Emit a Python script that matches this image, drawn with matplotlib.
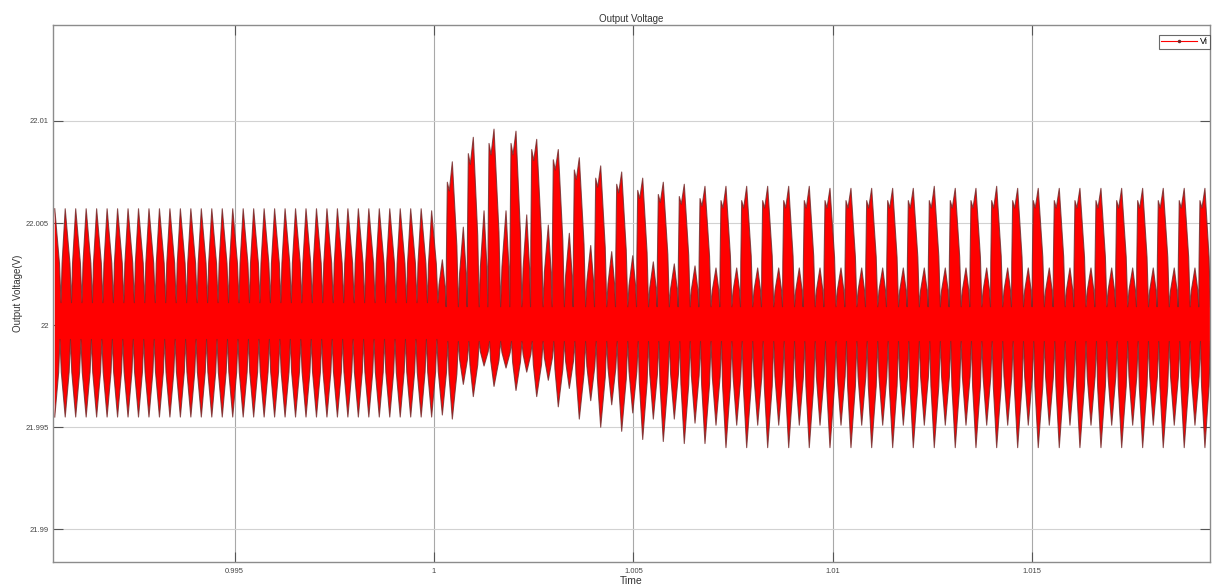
import numpy as np
import matplotlib
matplotlib.use("Agg")
import matplotlib.pyplot as plt
from matplotlib.lines import Line2D

plt.rcParams['font.family'] = ['Liberation Sans', 'DejaVu Sans']

# ---------------- axis data ----------------
x_ticks = [0.995, 1.0, 1.005, 1.01, 1.015]
x_tick_labels = ["0.995", "1", "1.005", "1.01", "1.015"]
y_ticks = [21.99, 21.995, 22.0, 22.005, 22.01]
y_tick_labels = ["21.99", "21.995", "22", "22.005", "22.01"]
x_limits = [0.99045, 1.01945]
y_limits = [21.9884, 22.0147]

# ---------------- before the load step (ripple events) ----------------
pre_start = 0.990494
pre_period = 0.0002624
pre_peak = [22.0057, 22.0057, 22.0057, 22.0057, 22.0057, 22.0057, 22.0057, 22.0057,
            22.0057, 22.0057, 22.0057, 22.0057, 22.0057, 22.0057, 22.0057, 22.0057,
            22.0057, 22.0057, 22.0057, 22.0057, 22.0057, 22.0057, 22.0057, 22.0057,
            22.0057, 22.0057, 22.0057, 22.0057, 22.0057, 22.0057, 22.0057, 22.0057,
            22.0057, 22.0057, 22.0057, 22.0057, 22.0056]
pre_trough = [21.9955, 21.9955, 21.9955, 21.9955, 21.9955, 21.9955, 21.9955, 21.9955,
              21.9955, 21.9955, 21.9955, 21.9955, 21.9955, 21.9955, 21.9955, 21.9955,
              21.9955, 21.9955, 21.9955, 21.9955, 21.9955, 21.9955, 21.9955, 21.9955,
              21.9955, 21.9955, 21.9955, 21.9955, 21.9955, 21.9955, 21.9955, 21.9955,
              21.9955, 21.9955, 21.9955, 21.9955, 21.9955]
pre_band = [22.0011, 21.9993]

# ---------------- after the load step ----------------
tall_time = [1.000459, 1.000985, 1.001504, 1.002055, 1.002574, 1.003115, 1.003642,
             1.004178, 1.004704, 1.005231, 1.005747, 1.006273, 1.006792, 1.007318,
             1.007837, 1.008363, 1.008890, 1.009406, 1.009925, 1.010451, 1.010970,
             1.011496, 1.012013, 1.012539, 1.013065, 1.013584, 1.014103, 1.014629,
             1.015145, 1.015672, 1.016190, 1.016717, 1.017236, 1.017762, 1.018278,
             1.018804, 1.019323]
tall_peak = [22.0080, 22.0092, 22.0096, 22.0095, 22.0091, 22.0086, 22.0082, 22.0078,
             22.0075, 22.0072, 22.0070, 22.0069, 22.0068, 22.0068, 22.0068, 22.0068,
             22.0068, 22.0068, 22.0067, 22.0067, 22.0067, 22.0067, 22.0067, 22.0068,
             22.0067, 22.0067, 22.0068, 22.0067, 22.0067, 22.0067, 22.0067, 22.0067,
             22.0067, 22.0067, 22.0067, 22.0067, 22.0067]
tall_shoulder = [22.0070, 22.0084, 22.0089, 22.0089, 22.0086, 22.0081, 22.0076, 22.0072,
                 22.0069, 22.0066, 22.0064, 22.0063, 22.0062, 22.0061, 22.0061, 22.0061,
                 22.0061, 22.0061, 22.0061, 22.0061, 22.0061, 22.0061, 22.0061, 22.0061,
                 22.0061, 22.0061, 22.0061, 22.0061, 22.0061, 22.0061, 22.0061, 22.0061,
                 22.0061, 22.0061, 22.0061, 22.0061, 22.0061]
tall_trough = [21.9954, 21.9965, 21.9970, 21.9968, 21.9965, 21.9960, 21.9954, 21.9950,
               21.9948, 21.9944, 21.9943, 21.9942, 21.9942, 21.9940, 21.9940, 21.9940,
               21.9940, 21.9940, 21.9940, 21.9940, 21.9940, 21.9940, 21.9940, 21.9940,
               21.9940, 21.9940, 21.9940, 21.9940, 21.9940, 21.9940, 21.9940, 21.9940,
               21.9940, 21.9940, 21.9940, 21.9940, 21.9940]
small_lead = 0.00025
small_peak = [22.0032, 22.0048, 22.0056, 22.0056, 22.0054, 22.0049, 22.0045, 22.0039,
              22.0036, 22.0034, 22.0031, 22.0030, 22.0029, 22.0028, 22.0028, 22.0028,
              22.0028, 22.0028, 22.0028, 22.0028, 22.0028, 22.0028, 22.0028, 22.0028,
              22.0028, 22.0028, 22.0028, 22.0028, 22.0028, 22.0028, 22.0028, 22.0028,
              22.0028, 22.0028, 22.0028, 22.0028, 22.0028]
small_trough = [21.9956, 21.9971, 21.9980, 21.9979, 21.9977, 21.9973, 21.9969, 21.9963,
                21.9961, 21.9957, 21.9954, 21.9954, 21.9952, 21.9951, 21.9951, 21.9951,
                21.9951, 21.9951, 21.9951, 21.9951, 21.9951, 21.9951, 21.9951, 21.9951,
                21.9951, 21.9951, 21.9951, 21.9951, 21.9951, 21.9951, 21.9951, 21.9951,
                21.9951, 21.9951, 21.9951, 21.9951, 21.9951]
post_band = [22.0009, 21.9992]

series_label = "Vi"

# ---------------- build envelope outlines ----------------
# key vertices: (time, value, kind) kind: 'x' extreme, 'b' band, 'o' other
up_keys, lo_keys = [], []
n_pre = len(pre_peak)
for i in range(n_pre):
    t = pre_start + i * pre_period
    up_keys += [(t, pre_peak[i], 'x'), (t + 0.6 * pre_period, pre_band[0], 'b')]
    lo_keys += [(t, pre_trough[i], 'x'), (t + 0.5 * pre_period, pre_band[1], 'b')]

n_post = len(tall_time)
for k in range(n_post):
    tT = tall_time[k]
    ts = tT - small_lead
    g1 = tT - ts
    g2 = (tall_time[k + 1] - small_lead - tT) if k + 1 < n_post else small_lead
    notch = 0.07 * (tall_shoulder[k] - post_band[0])
    up_keys += [(ts, small_peak[k], 'x'), (ts + 0.38 * g1, post_band[0], 'b'),
                (tT - 0.5 * g1, tall_shoulder[k], 'x'),
                (tT - 0.3 * g1, tall_shoulder[k] - notch, 'o'),
                (tT, tall_peak[k], 'o'), (tT + 0.55 * g2, post_band[0], 'b')]
    lo_keys += [(ts, small_trough[k], 'x'), (ts + 0.55 * g1, post_band[1], 'b'),
                (tT, tall_trough[k], 'x'), (tT + 0.55 * g2, post_band[1], 'b')]


def with_knees(keys, frac_t=0.75, frac_v=0.42):
    ts, vs = [], []
    for j, (t, v, kind) in enumerate(keys):
        ts.append(t)
        vs.append(v)
        if j + 1 >= len(keys):
            break
        t2, v2, kind2 = keys[j + 1]
        if kind in ('x', 'o') and kind2 == 'b':
            ts.append(t + frac_t * (t2 - t))
            vs.append(v2 + frac_v * (v - v2))
        elif kind == 'b' and kind2 == 'x':
            ts.append(t + (1 - frac_t) * (t2 - t))
            vs.append(v + frac_v * (v2 - v))
    return ts, vs


up_t, up_v = with_knees(up_keys)
lo_t, lo_v = with_knees(lo_keys)

# ---------------- figure ----------------
fig = plt.figure(figsize=(12.13, 5.88), dpi=100)
ax = fig.add_axes([53 / 1213, 1 - 562 / 588, (1210 - 53) / 1213, (562 - 25) / 588])

poly_t = up_t + lo_t[::-1]
poly_v = up_v + lo_v[::-1]
ax.fill(poly_t, poly_v, color='#ff0000', lw=0, zorder=2)
ax.plot(up_t, up_v, color='#6e2a2a', lw=0.8, alpha=0.8, zorder=3)
ax.plot(lo_t, lo_v, color='#6e2a2a', lw=0.8, alpha=0.8, zorder=3)

ax.set_xlim(x_limits)
ax.set_ylim(y_limits)
ax.set_xticks(x_ticks)
ax.set_xticklabels(x_tick_labels)
ax.set_yticks(y_ticks)
ax.set_yticklabels(y_tick_labels)

ax.set_axisbelow(True)
ax.grid(True, axis='x', color='#a8a8a8', lw=0.8)
ax.grid(True, axis='y', color='#d2d2d2', lw=0.8)
ax.tick_params(direction='in', length=7, width=0.8, color='#555555',
               top=True, right=True, labelsize=5.5, labelcolor='#444444')
ax.tick_params(axis='x', pad=4)
ax.tick_params(axis='y', pad=3)
for s in ax.spines.values():
    s.set_color('#8c8c8c')
    s.set_linewidth(1.0)

ax.set_title("Output Voltage", fontsize=7, color='#333333', pad=2.5)
ax.set_xlabel("Time", fontsize=7.5, color='#333333', labelpad=1)
ax.set_ylabel("Output Voltage(V)", fontsize=7, color='#333333', labelpad=1.5)

handle = Line2D([], [], color='#ff0000', lw=0.8, marker='.', markersize=3,
                markerfacecolor='#6e2a2a', markeredgecolor='#6e2a2a')
leg = ax.legend([handle], [series_label], loc='upper right',
                bbox_to_anchor=(1.0, 1 - 10 / 537), fontsize=6.5,
                frameon=True, fancybox=False, handlelength=4, borderpad=0.25,
                handletextpad=0.3, borderaxespad=0.0)
leg.get_frame().set_edgecolor('#444444')
leg.get_frame().set_linewidth(0.8)

fig.savefig("out.png", dpi=100)
